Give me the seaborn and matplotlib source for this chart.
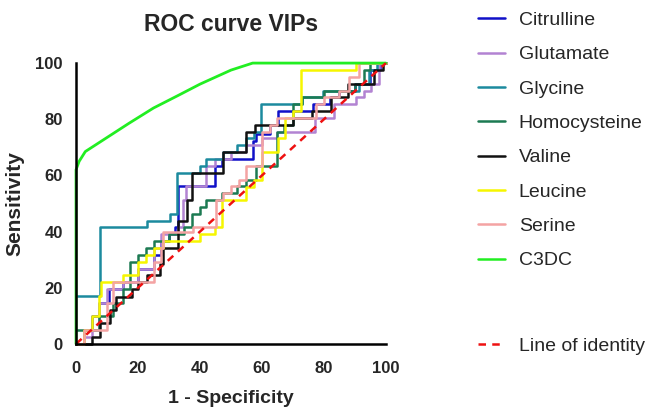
import matplotlib
matplotlib.use("Agg")
import matplotlib.pyplot as plt
import seaborn as sns
import pandas as pd
from matplotlib.lines import Line2D

# ROC step curves: value of y holds from x[i] until x[i+1]
citrulline_x = [0, 2.5, 5, 7.5, 10.7, 15, 20, 25, 27.5, 30, 32, 33, 44.8, 47, 57.1, 58, 62.5, 65.2, 76.4, 82, 85, 90, 95, 98, 100]
citrulline_y = [0, 4.9, 9.8, 14.6, 19.5, 22, 26.8, 31.7, 36.6, 39, 41.5, 56.1, 63.4, 65.9, 72.2, 74.6, 77.8, 83, 85.4, 87.8, 90.2, 92.7, 97.6, 100, 100]

glutamate_x = [0, 2.5, 5, 7.5, 10, 15, 20, 25, 27.5, 33, 34.5, 35.5, 42, 45, 50, 55, 60, 65, 70, 77, 83.4, 90.4, 93, 95.2, 97.9, 100]
glutamate_y = [0, 2.4, 4.9, 14.6, 19.5, 22, 26.8, 34.1, 39, 41.5, 51.2, 56.1, 63.4, 65.9, 68.3, 70.7, 73.2, 75.6, 75.6, 80.5, 85.4, 87.8, 90.2, 92.7, 100, 100]

glycine_x = [0, 7.6, 23, 30.3, 32.5, 40, 42, 47.5, 52, 55, 57.5, 59.8, 73, 79.6, 91.4, 94.6, 97, 100]
glycine_y = [17.1, 41.5, 43.9, 46.3, 61, 63.4, 65.9, 68.3, 70.7, 73.2, 75.6, 85.4, 87.8, 90.2, 92.7, 97.6, 100, 100]

homocysteine_x = [0, 7.5, 12, 15, 17.5, 20, 22.5, 25, 30, 35, 37.5, 40, 42, 47, 52, 55, 58, 65, 67, 70, 73, 80, 90, 93, 95, 100]
homocysteine_y = [4.9, 9.8, 14.6, 19.5, 29.3, 31.7, 34.1, 36.6, 39, 41.5, 46.3, 48.8, 51.2, 53.7, 56.1, 58.5, 63.4, 75.6, 78, 85.4, 87.8, 90.2, 92.7, 97.6, 100, 100]

valine_x = [0, 5, 7.8, 11, 13, 18, 20, 23, 27, 28, 33, 35.7, 37.3, 47.5, 55, 57.7, 70, 76, 82.3, 87.7, 96, 99, 100]
valine_y = [0, 2.4, 7.3, 12.2, 16.6, 19.5, 21.9, 24.4, 28.5, 34.1, 43.9, 51.2, 61, 68.3, 75.6, 78, 80.5, 83, 87.8, 92.7, 97.6, 100, 100]

leucine_x = [0, 2.5, 5, 7.5, 8, 15, 20, 22.5, 25, 28, 40, 44.8, 47, 55, 57.5, 60, 65.2, 67.5, 70, 72.7, 90.3, 100]
leucine_y = [0, 4.9, 9.8, 17.1, 22, 24.4, 29.3, 31.7, 34.1, 36.6, 39, 41.5, 51.2, 55.8, 58.5, 68.3, 73.2, 80.5, 83, 97.6, 100, 100]

serine_x = [0, 2.5, 10, 12, 25, 27.5, 28, 37.8, 45.3, 47.5, 50, 52.5, 55, 60, 62.5, 65, 70, 77.5, 80, 85, 88, 91.4, 100]
serine_y = [0, 4.9, 14.6, 22, 29.3, 34.1, 39.7, 41.5, 51.2, 53.7, 56.1, 58.5, 63.4, 75.6, 78, 80.5, 80.5, 85.4, 87.8, 90.2, 95, 100, 100]

# C3DC is drawn as a smooth curve
c3dc_x = [0, 0, 1, 3, 10, 17, 25, 33, 40, 50, 57, 100]
c3dc_y = [0, 62, 65, 68.5, 73.5, 78.5, 84, 88.5, 92.5, 97.5, 100, 100]

identity_x = [0, 100]
identity_y = [0, 100]

series = [
    ("Citrulline", citrulline_x, citrulline_y, "#1010c8"),
    ("Glutamate", glutamate_x, glutamate_y, "#b283d2"),
    ("Glycine", glycine_x, glycine_y, "#1c8a9e"),
    ("Homocysteine", homocysteine_x, homocysteine_y, "#1c7a52"),
    ("Valine", valine_x, valine_y, "#111111"),
    ("Leucine", leucine_x, leucine_y, "#f6f600"),
    ("Serine", serine_x, serine_y, "#f4a3a3"),
]

sns.set_style("white")
plt.rcParams['font.family'] = ['Liberation Sans', 'DejaVu Sans']

fig = plt.figure(figsize=(6.47, 4.07), dpi=100)
ax = fig.add_axes([0.1175, 0.155, 0.479, 0.69])

handles = []
for name, xs, ys, col in series:
    df = pd.DataFrame({"x": xs, "y": ys})
    sns.lineplot(data=df, x="x", y="y", ax=ax, color=col, lw=1.8, sort=False,
                 estimator=None, drawstyle="steps-post", clip_on=False)
    handles.append(Line2D([], [], color=col, lw=1.8))

df = pd.DataFrame({"x": c3dc_x, "y": c3dc_y})
sns.lineplot(data=df, x="x", y="y", ax=ax, color="#22ee22", lw=2.0, sort=False,
             estimator=None, clip_on=False)
handles.append(Line2D([], [], color="#22ee22", lw=1.8))

df = pd.DataFrame({"x": identity_x, "y": identity_y})
sns.lineplot(data=df, x="x", y="y", ax=ax, color="#ee1111", lw=1.8, sort=False,
             estimator=None, clip_on=False, dashes=(3, 2.5))

ax.set_xlim(0, 100)
ax.set_ylim(0, 100)
ax.set_xticks(range(0, 101, 20))
ax.set_yticks(range(0, 101, 20))
for s in ["top", "right"]:
    ax.spines[s].set_visible(False)
for s in ["left", "bottom"]:
    ax.spines[s].set_linewidth(1.8)
    ax.spines[s].set_color("black")
ax.tick_params(axis="both", direction="out", length=6.5, width=1.8, labelsize=12)
ax.tick_params(axis="x", pad=6)
ax.tick_params(axis="y", pad=3)
for lab in ax.get_xticklabels() + ax.get_yticklabels():
    lab.set_fontweight("bold")

ax.set_xlabel("1 - Specificity", fontsize=14, fontweight="bold", labelpad=10)
ax.set_ylabel("Sensitivity", fontsize=15, fontweight="bold", labelpad=8)
ax.set_title("ROC curve VIPs", fontsize=16.5, fontweight="bold", pad=23)

labels = [s[0] for s in series] + ["C3DC"]
leg = fig.legend(handles, labels, loc="upper left", bbox_to_anchor=(0.7125, 1.015),
                 frameon=False, fontsize=14, handlelength=1.35, handletextpad=0.72,
                 labelspacing=0.86)
leg2 = fig.legend([Line2D([], [], color="#ee1111", lw=1.8, ls=(0, (3, 2.5)))],
                  ["Line of identity"], loc="upper left", bbox_to_anchor=(0.7125, 0.215),
                  frameon=False, fontsize=14, handlelength=1.35, handletextpad=0.72)

fig.savefig("out.png", dpi=100)
